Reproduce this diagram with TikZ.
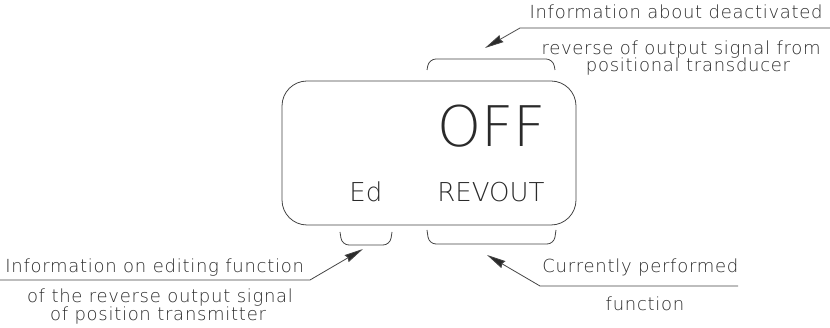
\documentclass[tikz,border=0pt]{standalone}
\usepackage{fontspec}
\usetikzlibrary{arrows.meta}
\newfontfamily\cadfont{DejaVu Sans ExtraLight}[LetterSpace=4]
\newfontfamily\lcdfont{DejaVu Sans ExtraLight}
\definecolor{ink}{HTML}{2A2A2A}
\definecolor{lineink}{HTML}{444444}
\begin{document}
\begin{tikzpicture}[x=1pt,y=-1pt,line width=0.8pt]
\tikzset{
  lbl/.style={inner sep=0pt,text=ink,font=\cadfont\fontsize{18}{20}\selectfont},
  lcd/.style={inner sep=0pt,text=ink},
  brk/.style={draw=lineink,rounded corners=7pt},
  arr/.style={draw=lineink,-{Stealth[length=19pt,width=8pt,inset=1.5pt,fill=ink]}}
}
\useasboundingbox (0,0) rectangle (830,328);
% top annotation
\node[lbl,anchor=base east] (t1) at (823,19) {Information about deactivated};
\node[lbl,anchor=base east] (t2) at (821,55) {reverse of output signal from};
\node[lbl,anchor=base] (t3) at (688,72) {positional transducer};
\coordinate (tr) at (830,28);
\coordinate (tk) at (520,28);
\coordinate (tt) at (485,48);
\draw[arr] (tr) -- (tk) -- (tt);
% display
\node[draw=lineink,rounded corners=25pt,minimum width=294pt,minimum height=144pt,inner sep=0pt] (disp) at (429,153) {};
\node[lcd,anchor=base west,font=\lcdfont\fontsize{56}{60}\selectfont] (off) at (437,147) {OFF};
\node[lcd,anchor=base west,font=\lcdfont\fontsize{26}{28}\selectfont] (ed) at (349,202) {Ed};
\node[lcd,anchor=base west,font=\lcdfont\fontsize{26}{28}\selectfont] (rev) at (437,202) {REVOUT};
% brackets
\draw[brk] (427,70) -- (429,59) -- (553,59) -- (555,70);
\draw[brk] (340,232) -- (342,245) -- (390,245) -- (392,232);
\draw[brk] (427,230) -- (429,244) -- (554,244) -- (556,230);
% bottom left annotation
\node[lbl,anchor=base west] (b1) at (5,273) {Information on editing function};
\node[lbl,anchor=base] (b2) at (160,303) {of the reverse output signal};
\node[lbl,anchor=base] (b3) at (158,321) {of position transmitter};
\coordinate (bl) at (0,280);
\coordinate (bk) at (310,280);
\coordinate (bt) at (363,249);
\draw[arr] (bl) -- (bk) -- (bt);
% bottom right annotation
\node[lbl,anchor=base west] (c1) at (542,273) {Currently performed};
\node[lbl,anchor=base] (c2) at (645,311) {function};
\coordinate (cr) at (738,286);
\coordinate (ck) at (540,286);
\coordinate (ct) at (487,255);
\draw[arr] (cr) -- (ck) -- (ct);
\end{tikzpicture}
\end{document}
